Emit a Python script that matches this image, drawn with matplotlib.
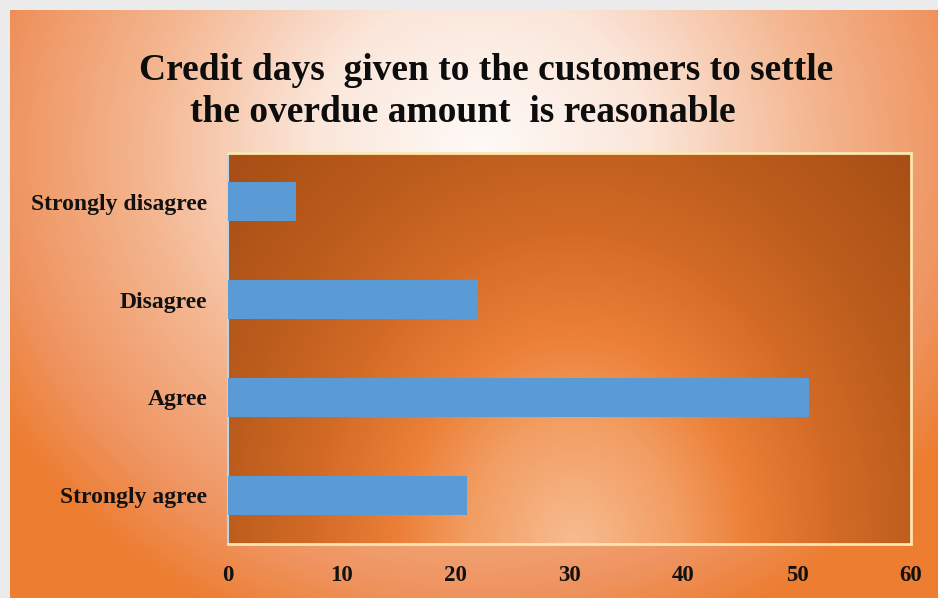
import numpy as np
import matplotlib
matplotlib.use("Agg")
import matplotlib.pyplot as plt
from matplotlib.colors import LinearSegmentedColormap

# survey answers, bottom to top
categories = ["Strongly agree", "Agree", "Disagree", "Strongly disagree"]
responses = [21, 51, 22, 6]
x_ticks = [0, 10, 20, 30, 40, 50, 60]
title_lines = [
    "Credit days  given to the customers to settle",
    "the overdue amount  is reasonable",
]

W, H = 938, 598
SERIF = "Liberation Serif"

chart_cmap = LinearSegmentedColormap.from_list(
    "chart_bg",
    [(0.0, "#fefaf7"), (0.3, "#fbe6da"), (0.6, "#f4b690"),
     (0.85, "#ef9460"), (1.0, "#ed7d31")],
)
plot_cmap = LinearSegmentedColormap.from_list(
    "plot_bg",
    [(0.0, "#f7bc90"), (0.2, "#f29d62"), (0.33, "#ec8038"),
     (0.5, "#d26a26"), (0.67, "#bb5c1c"), (1.0, "#9e4812")],
)


def radial(w, h, cx, cy, rx, ry):
    """Elliptical distance field in pixel units, row 0 at the top."""
    yy, xx = np.mgrid[0:h, 0:w]
    return np.sqrt(((xx - cx) / rx) ** 2 + ((yy - cy) / ry) ** 2)


def draw_background(fig):
    """Grey frame plus the light radial glow behind the title."""
    fig.patch.set_facecolor("#ebebeb")
    bg = fig.add_axes([10 / W, 0, (W - 10) / W, (H - 10) / H], zorder=-10)
    field = radial(W - 10, H - 10, 470, 140, 560, 520)
    bg.imshow(np.clip(field, 0, 1), cmap=chart_cmap, vmin=0, vmax=1,
              aspect="auto", interpolation="bilinear")
    bg.set_axis_off()


def main() -> None:
    fig = plt.figure(figsize=(W / 100, H / 100), dpi=100)
    draw_background(fig)

    pos = [228 / W, 1 - 544 / H, (911 - 228) / W, (544 - 153) / H]

    # plot area fill, darker brown with a light spot at the bottom middle
    pw, ph = 683, 391
    area = fig.add_axes(pos, zorder=0)
    field = radial(pw, ph, 345, ph, 350, 420)
    area.imshow(np.clip(field / 1.5, 0, 1), cmap=plot_cmap, vmin=0, vmax=1,
                aspect="auto", interpolation="bilinear")
    area.set_axis_off()

    ax = fig.add_axes(pos, zorder=1)
    ax.set_facecolor("none")
    y = np.arange(len(categories))
    ax.barh(y, responses, height=0.4, color="#5b9bd5", zorder=3)

    ax.set_xlim(0, 60)
    ax.set_ylim(-0.5, len(categories) - 0.5)
    ax.set_xticks(x_ticks)
    ax.set_xticklabels([str(t) for t in x_ticks])
    ax.set_yticks(y)
    ax.set_yticklabels(categories)
    ax.tick_params(axis="x", length=0, pad=15)
    ax.tick_params(axis="y", length=0, pad=15)
    for lab in ax.get_xticklabels():
        lab.set_fontsize(16.5)
    for lab in ax.get_yticklabels():
        lab.set_fontsize(17)
    for lab in ax.get_xticklabels() + ax.get_yticklabels():
        lab.set_fontfamily(SERIF)
        lab.set_fontweight("bold")
        lab.set_color("#111111")

    for side in ("top", "right", "bottom"):
        ax.spines[side].set_color("#fde6b0")
        ax.spines[side].set_linewidth(2)
    ax.spines["left"].set_color("#b8d4ea")
    ax.spines["left"].set_linewidth(1.5)

    fig.text(486 / W, 1 - 80 / H, title_lines[0], ha="center", va="baseline",
             fontsize=27, fontweight="bold", family=SERIF, color="#0d0d0d")
    fig.text(463 / W, 1 - 122 / H, title_lines[1], ha="center",
             va="baseline", fontsize=27, fontweight="bold", family=SERIF,
             color="#0d0d0d")

    fig.savefig("out.png", dpi=100)


if __name__ == "__main__":
    main()
